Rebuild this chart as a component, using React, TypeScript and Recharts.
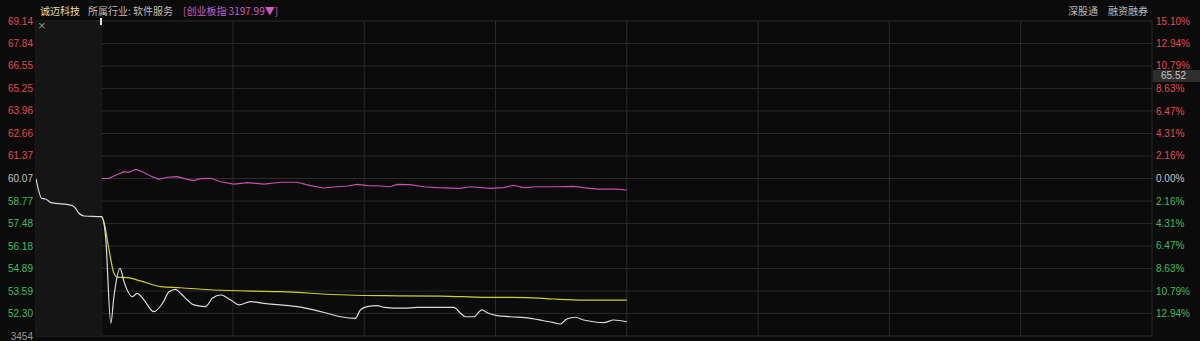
import React from "react";
import { ComposedChart, Line, XAxis, YAxis, CartesianGrid, ReferenceArea } from "recharts";

// minutes from 9:30 (auction starts at -15), morning session ends at 120
const timeTicks = [-15, 0, 30, 60, 90, 120, 150, 180, 210, 240];

const priceTicks = [69.14, 67.84, 66.55, 65.25, 63.96, 62.66, 61.37, 60.07, 58.77, 57.48, 56.18, 54.89, 53.59, 52.3, 51.0];
const prevClose = 60.07;
const volumeTopLabel = "3454";

const pctTicks = [15.1, 12.94, 10.79, 8.63, 6.47, 4.31, 2.16, 0, -2.16, -4.31, -6.47, -8.63, -10.79, -12.94];

const priceTimes = [
  -15, -13.7, -12.8, -11.6, -10.5, -7.1, -6.3, -5.2, -4, 0, 0.9, 2.1, 2.8, 4.2, 5.1, 7, 8.1, 9.7, 11.9, 13.9,
  15.4, 16.9, 18, 21.1, 23.7, 25.3, 27.2, 29.5, 31.4, 34, 37.1, 40.9, 44.7, 48.5, 51.5, 54.6, 58, 59.1, 60.7,
  63, 64.5, 69, 72.1, 75.9, 80.5, 82, 83.1, 85, 86.9, 88.1, 90.4, 93.4, 98, 101, 103.3, 104.8, 106.3, 108.2,
  110.1, 112.4, 114.7, 117, 120,
];
const priceValues = [
  60.07, 58.93, 58.89, 58.68, 58.64, 58.54, 58.45, 58.07, 57.91, 57.87, 56.72, 51.73, 53.26, 54.9, 54.13, 53.26,
  53.46, 53.07, 52.4, 52.88, 53.55, 53.69, 53.46, 52.79, 52.69, 53.17, 53.36, 53.07, 52.79, 52.98, 52.88, 52.79,
  52.69, 52.5, 52.31, 52.11, 52.02, 52.5, 52.69, 52.75, 52.65, 52.6, 52.65, 52.65, 52.65, 52.31, 52.11, 52.11,
  52.5, 52.34, 52.17, 52.11, 52.02, 51.88, 51.77, 51.69, 51.98, 52.08, 51.92, 51.82, 51.77, 51.92, 51.82,
];

const avgTimes = [0, 0.5, 1.7, 2.8, 3.6, 5.9, 8.9, 13.5, 18, 25.6, 40.9, 56.1, 64.4, 77.4, 87.2, 97.2, 103.2, 110.1, 120];
const avgValues = [57.87, 57.58, 55.95, 54.61, 54.39, 54.36, 54.17, 53.84, 53.78, 53.65, 53.55, 53.36, 53.32, 53.3, 53.23, 53.21, 53.13, 53.07, 53.07];

// 创业板指 change in %
const indexTimes = [
  0, 1.7, 2.8, 5.1, 6.2, 7.8, 9.3, 11.2, 13.1, 15, 17.3, 19.6, 21.1, 22.6, 24.9, 27.2, 30.2, 33.3, 37.1, 40.9,
  44.7, 47.7, 50.7, 53.8, 56.1, 58.4, 60.7, 63.7, 66, 67.5, 70.5, 73.6, 76.6, 81.9, 84.2, 88.8, 91.8, 94.1, 96.4,
  99.5, 104.1, 107.9, 110.1, 113.2, 117.7, 120,
];
const indexValues = [
  0, 0.02, 0.24, 0.65, 0.59, 0.88, 0.65, 0.24, -0.08, 0.12, 0.17, -0.08, -0.21, -0.02, 0.02, -0.31, -0.53, -0.4,
  -0.53, -0.36, -0.36, -0.69, -0.91, -0.79, -0.72, -0.56, -0.69, -0.72, -0.79, -0.56, -0.59, -0.79, -0.88, -0.94,
  -0.79, -0.94, -0.88, -0.65, -0.88, -0.79, -0.79, -0.75, -0.88, -1.01, -1.01, -1.1,
];

const priceData = priceTimes.map((t, i) => ({ t, v: priceValues[i] }));
const avgData = avgTimes.map((t, i) => ({ t, v: avgValues[i] }));
const indexData = indexTimes.map((t, i) => ({ t, v: indexValues[i] }));

const RED = "#e04b4b";
const GREEN = "#3fbf5a";
const GRAY = "#c4c4c4";
const FONT = "'Liberation Sans', Arial, sans-serif";
const CJK = "'Noto Sans CJK SC', sans-serif";

const LeftTick = (props: any) => {
  const { x, y, payload } = props;
  const v = payload.value as number;
  let label = v.toFixed(2);
  let fill = v > prevClose ? RED : v < prevClose ? GREEN : GRAY;
  if (v === priceTicks[priceTicks.length - 1]) {
    label = volumeTopLabel;
    fill = "#9a9a9a";
  }
  return (
    <text x={x} y={y} dy={3.5} textAnchor="end" fontSize={10} fontFamily={FONT} fill={fill}>
      {label}
    </text>
  );
};

const RightTick = (props: any) => {
  const { x, y, payload } = props;
  const v = payload.value as number;
  const fill = v > 0 ? RED : v < 0 ? GREEN : GRAY;
  return (
    <text x={x} y={y} dy={3.5} textAnchor="start" fontSize={10} fontFamily={FONT} fill={fill}>
      {Math.abs(v).toFixed(2) + "%"}
    </text>
  );
};

export default function App() {
  return (
    <div style={{ position: "relative", width: 1200, height: 341, background: "#0b0b0b", overflow: "hidden" }}>
      <style>{`body{margin:0;background:#0b0b0b}`}</style>
      <ComposedChart width={1200} height={341} margin={{ top: 21, right: 0, bottom: 5, left: 0 }}>
        <XAxis dataKey="t" type="number" domain={[-15, 240]} ticks={timeTicks} hide allowDataOverflow />
        <YAxis
          yAxisId="price"
          orientation="left"
          width={36}
          domain={[51.0, 69.14]}
          ticks={priceTicks}
          interval={0}
          axisLine={false}
          tickLine={false}
          tickSize={0}
          tickMargin={3}
          tick={<LeftTick />}
          allowDataOverflow
        />
        <YAxis
          yAxisId="pct"
          orientation="right"
          width={48}
          domain={[-15.1, 15.1]}
          ticks={pctTicks}
          interval={0}
          axisLine={false}
          tickLine={false}
          tickSize={0}
          tickMargin={4}
          tick={<RightTick />}
          allowDataOverflow
        />
        <ReferenceArea yAxisId="price" x1={-15} x2={0} y1={51.0} y2={69.14} fill="#151515" fillOpacity={1} stroke="none" />
        <CartesianGrid yAxisId="price" stroke="#2b2b2b" strokeWidth={1} />
        <Line
          yAxisId="pct"
          data={indexData}
          dataKey="v"
          type="linear"
          stroke="#c94fb4"
          strokeWidth={1.2}
          dot={false}
          isAnimationActive={false}
        />
        <Line
          yAxisId="price"
          data={avgData}
          dataKey="v"
          type="monotone"
          stroke="#cfcf2a"
          strokeWidth={1.2}
          dot={false}
          isAnimationActive={false}
        />
        <Line
          yAxisId="price"
          data={priceData}
          dataKey="v"
          type="monotone"
          stroke="#dcdcdc"
          strokeWidth={1.2}
          dot={false}
          isAnimationActive={false}
        />
      </ComposedChart>

      <div style={{ position: "absolute", top: 3, left: 40, fontFamily: CJK, fontSize: 10, color: "#e6dca0", whiteSpace: "nowrap" }}>
        诚迈科技
      </div>
      <div style={{ position: "absolute", top: 3, left: 88, fontFamily: CJK, fontSize: 10, color: "#bdbdbd", whiteSpace: "nowrap" }}>
        所属行业: 软件服务
      </div>
      <div style={{ position: "absolute", top: 3, left: 183, fontFamily: CJK, fontSize: 10, color: "#d25ac0", whiteSpace: "nowrap" }}>
        [创业板指 3197.99▼]
      </div>
      <div style={{ position: "absolute", top: 3, left: 1068, fontFamily: CJK, fontSize: 10, color: "#bdbdbd", whiteSpace: "nowrap" }}>
        深股通
      </div>
      <div style={{ position: "absolute", top: 3, left: 1108, fontFamily: CJK, fontSize: 10, color: "#bdbdbd", whiteSpace: "nowrap" }}>
        融资融券
      </div>
      <div style={{ position: "absolute", top: 19, left: 38, fontFamily: FONT, fontSize: 13, color: "#8a8a8a", lineHeight: "13px" }}>
        ×
      </div>
      <div style={{ position: "absolute", top: 18, left: 100, width: 2, height: 7, background: "#e0e0e0" }} />
      <div
        style={{
          position: "absolute",
          top: 70,
          left: 1153,
          width: 47,
          height: 12,
          background: "#2e2e2e",
          color: "#c8c8c8",
          fontFamily: FONT,
          fontSize: 10,
          lineHeight: "12px",
          paddingLeft: 8,
          boxSizing: "border-box",
        }}
      >
        65.52
      </div>
    </div>
  );
}
